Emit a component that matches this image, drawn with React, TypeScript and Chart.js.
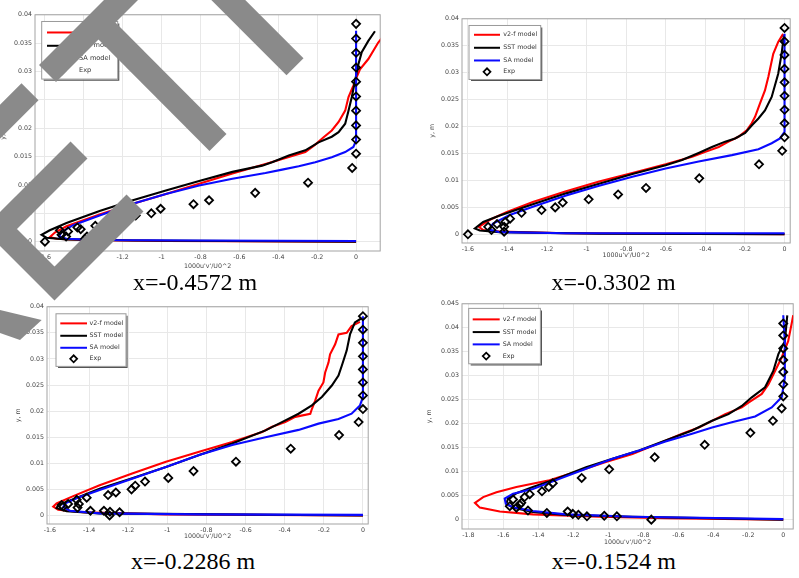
import React, { useEffect, useRef } from 'react';
import { Chart, registerables } from 'chart.js';

Chart.register(...registerables);

type Pt = [number, number];

// ---------- text ----------
const SERIES_LABELS = ['v2-f model', 'SST model', 'SA model', 'Exp'];
const CAPTIONS = ['x=-0.4572 m', 'x=-0.3302 m', 'x=-0.2286 m', 'x=-0.1524 m'];
const X_TITLE = "1000u'v'/U0^2";
const Y_TITLE = 'y, m';
const X_STEP = 0.2;
const Y_STEP = 0.005;

// ---------- data: [1000u'v'/U0^2, y (m)] ----------
// Panel 1: x = -0.4572 m
const P1_V2F: Pt[] = [[0.14, 0.0362], [0.114, 0.0351], [0.063, 0.0322], [0.02, 0.0304], [0.003, 0.029], [-0.014, 0.0275], [-0.039, 0.0255], [-0.056, 0.0231], [-0.09, 0.0211], [-0.125, 0.0196], [-0.167, 0.0184], [-0.21, 0.0171], [-0.261, 0.0158], [-0.329, 0.0151], [-0.397, 0.0144], [-0.466, 0.0137], [-0.636, 0.012], [-0.807, 0.0102], [-0.978, 0.0084], [-1.148, 0.0067], [-1.319, 0.0048], [-1.489, 0.0027], [-1.549, 0.0016], [-1.575, 0.0008], [-1.54, 0.0005], [-1.404, 0.0003], [-0.978, 0.0001], [0, 0]];
const P1_SST: Pt[] = [[0.097, 0.0371], [0.063, 0.0354], [0.029, 0.0334], [0.012, 0.0313], [-0.005, 0.0284], [-0.022, 0.0255], [-0.039, 0.0231], [-0.056, 0.0208], [-0.09, 0.0193], [-0.125, 0.0185], [-0.193, 0.0175], [-0.261, 0.0161], [-0.346, 0.0152], [-0.432, 0.014], [-0.483, 0.0134], [-0.636, 0.0123], [-0.807, 0.0107], [-0.978, 0.009], [-1.148, 0.0073], [-1.319, 0.0054], [-1.489, 0.0033], [-1.575, 0.002], [-1.617, 0.0012], [-1.592, 0.0007], [-1.489, 0.0004], [-1.148, 0.0002], [0, 0]];
const P1_SA: Pt[] = [[0, 0.0372], [0, 0.0178], [-0.014, 0.0167], [-0.056, 0.0158], [-0.125, 0.0149], [-0.21, 0.014], [-0.295, 0.0133], [-0.38, 0.0127], [-0.466, 0.0121], [-0.636, 0.0111], [-0.807, 0.0099], [-0.978, 0.0084], [-1.148, 0.0067], [-1.319, 0.0046], [-1.455, 0.0029], [-1.515, 0.0017], [-1.527, 0.0009], [-1.489, 0.0005], [-1.319, 0.0003], [-0.807, 0.0002], [0, 0.0001]];
const P1_EXP: Pt[] = [[0, 0.0384], [0, 0.0358], [0, 0.0333], [0, 0.0307], [0, 0.0282], [0, 0.0256], [0, 0.0231], [0, 0.0205], [0, 0.018], [0, 0.0155], [-0.02, 0.013], [-0.247, 0.0104], [-0.519, 0.0086], [-0.756, 0.0073], [-0.836, 0.0066], [-1.005, 0.0058], [-1.053, 0.005], [-1.133, 0.0046], [-1.235, 0.004], [-1.25, 0.0035], [-1.302, 0.0031], [-1.341, 0.0028], [-1.416, 0.0022], [-1.433, 0.0025], [-1.481, 0.0018], [-1.523, 0.002], [-1.515, 0.0012], [-1.491, 0.0009], [-1.384, 0.0009], [-1.394, 0.0005], [-1.334, 0.0006], [-1.6, 0]];

// Panel 2: x = -0.3302 m
const P2_V2F: Pt[] = [[-0.007, 0.0372], [-0.032, 0.0357], [-0.057, 0.0335], [-0.082, 0.0292], [-0.099, 0.0267], [-0.124, 0.0243], [-0.149, 0.0218], [-0.166, 0.0206], [-0.191, 0.0193], [-0.233, 0.0181], [-0.283, 0.0172], [-0.333, 0.0162], [-0.4, 0.0153], [-0.467, 0.0144], [-0.601, 0.013], [-0.769, 0.0114], [-0.937, 0.0098], [-1.104, 0.008], [-1.272, 0.006], [-1.406, 0.0041], [-1.489, 0.0027], [-1.545, 0.0014], [-1.523, 0.0008], [-1.439, 0.0005], [-1.104, 0.0002], [0, 0]];
const P2_SST: Pt[] = [[-0.003, 0.0369], [-0.015, 0.0335], [-0.032, 0.0298], [-0.065, 0.0255], [-0.099, 0.023], [-0.132, 0.0215], [-0.166, 0.0202], [-0.199, 0.0188], [-0.25, 0.0178], [-0.3, 0.0172], [-0.367, 0.0162], [-0.434, 0.0151], [-0.518, 0.0138], [-0.601, 0.0128], [-0.769, 0.0112], [-0.937, 0.0094], [-1.104, 0.0076], [-1.272, 0.0056], [-1.439, 0.0035], [-1.523, 0.0023], [-1.565, 0.0011], [-1.54, 0.0007], [-1.439, 0.0004], [-0.937, 0.0001], [0, 0]];
const P2_SA: Pt[] = [[0, 0.0372], [0, 0.019], [-0.023, 0.0178], [-0.065, 0.0169], [-0.132, 0.0158], [-0.266, 0.0147], [-0.434, 0.0135], [-0.601, 0.0122], [-0.769, 0.0107], [-0.937, 0.009], [-1.104, 0.0072], [-1.272, 0.0051], [-1.389, 0.0036], [-1.473, 0.002], [-1.493, 0.0009], [-1.439, 0.0004], [-1.104, 0.0002], [0, 0.0002]];
const P2_EXP: Pt[] = [[0, 0.0383], [0, 0.0358], [0, 0.0333], [0, 0.0307], [0, 0.0282], [0, 0.0257], [0, 0.0231], [0, 0.0206], [0, 0.018], [-0.012, 0.0155], [-0.129, 0.013], [-0.431, 0.0104], [-0.7, 0.0086], [-0.841, 0.0074], [-0.99, 0.0065], [-1.121, 0.0059], [-1.159, 0.005], [-1.228, 0.0045], [-1.329, 0.004], [-1.387, 0.0029], [-1.411, 0.0023], [-1.453, 0.0019], [-1.498, 0.0014], [-1.417, 0.0014], [-1.481, 0.0008], [-1.417, 0.0005], [-1.6, 0]];

// Panel 3: x = -0.2286 m
const P3_V2F: Pt[] = [[-0.015, 0.0371], [-0.058, 0.0363], [-0.083, 0.035], [-0.125, 0.0347], [-0.142, 0.0328], [-0.168, 0.0309], [-0.176, 0.0293], [-0.193, 0.0274], [-0.202, 0.0255], [-0.227, 0.0239], [-0.244, 0.022], [-0.261, 0.0204], [-0.269, 0.0195], [-0.346, 0.0189], [-0.397, 0.0179], [-0.464, 0.017], [-0.515, 0.016], [-0.668, 0.0141], [-0.837, 0.0122], [-1.007, 0.0103], [-1.176, 0.0081], [-1.346, 0.0058], [-1.481, 0.0037], [-1.566, 0.0023], [-1.583, 0.0017], [-1.558, 0.0011], [-1.431, 0.0006], [-1.007, 0.0002], [0, 0]];
const P3_SST: Pt[] = [[-0.007, 0.0378], [-0.041, 0.037], [-0.066, 0.0347], [-0.083, 0.0316], [-0.108, 0.0287], [-0.125, 0.0268], [-0.159, 0.0249], [-0.21, 0.0227], [-0.261, 0.0211], [-0.329, 0.0195], [-0.414, 0.0179], [-0.498, 0.0163], [-0.668, 0.0138], [-0.837, 0.0116], [-1.007, 0.0093], [-1.176, 0.0072], [-1.346, 0.0051], [-1.481, 0.0031], [-1.558, 0.002], [-1.566, 0.0014], [-1.515, 0.0008], [-1.346, 0.0004], [0, 0]];
const P3_SA: Pt[] = [[0, 0.0382], [0, 0.0227], [-0.015, 0.0211], [-0.058, 0.0195], [-0.125, 0.0185], [-0.227, 0.0176], [-0.329, 0.0164], [-0.498, 0.015], [-0.668, 0.0135], [-0.837, 0.0116], [-1.007, 0.0093], [-1.176, 0.0071], [-1.346, 0.0049], [-1.464, 0.0033], [-1.524, 0.0023], [-1.532, 0.0016], [-1.498, 0.0009], [-1.346, 0.0004], [-0.837, 0.0002], [0, 0.0001]];
const P3_EXP: Pt[] = [[0, 0.0382], [0, 0.0356], [0, 0.0331], [0, 0.0305], [0, 0.028], [0, 0.0255], [0, 0.023], [0, 0.0204], [-0.022, 0.0179], [-0.122, 0.0154], [-0.369, 0.0128], [-0.649, 0.0103], [-0.866, 0.0085], [-0.995, 0.0072], [-1.114, 0.0065], [-1.164, 0.0057], [-1.183, 0.005], [-1.263, 0.0044], [-1.303, 0.0039], [-1.412, 0.0034], [-1.463, 0.003], [-1.452, 0.0022], [-1.459, 0.0015], [-1.507, 0.0022], [-1.532, 0.0017], [-1.54, 0.002], [-1.393, 0.0009], [-1.324, 0.0009], [-1.293, 0.0007], [-1.244, 0.0006], [-1.295, 0]];

// Panel 4: x = -0.1524 m
const P4_V2F: Pt[] = [[0.057, 0.0426], [0.047, 0.0407], [0.028, 0.0372], [-0.009, 0.0338], [-0.047, 0.031], [-0.085, 0.0282], [-0.123, 0.0262], [-0.199, 0.0244], [-0.237, 0.0234], [-0.332, 0.022], [-0.407, 0.0206], [-0.483, 0.0192], [-0.578, 0.0179], [-0.711, 0.0159], [-0.862, 0.0137], [-1.014, 0.012], [-1.165, 0.0102], [-1.336, 0.0082], [-1.525, 0.0068], [-1.639, 0.0057], [-1.715, 0.0047], [-1.762, 0.0035], [-1.734, 0.0025], [-1.62, 0.0017], [-1.431, 0.0011], [-1.052, 0.0006], [-0.673, 0.0003], [0, 0]];
const P4_SST: Pt[] = [[0.023, 0.0426], [0.009, 0.0372], [-0.028, 0.0345], [-0.057, 0.031], [-0.104, 0.0276], [-0.18, 0.0255], [-0.237, 0.0237], [-0.313, 0.022], [-0.407, 0.0206], [-0.521, 0.0186], [-0.673, 0.0165], [-0.824, 0.0144], [-0.976, 0.0127], [-1.127, 0.0109], [-1.298, 0.0085], [-1.431, 0.0068], [-1.525, 0.0055], [-1.573, 0.0044], [-1.582, 0.0033], [-1.544, 0.0025], [-1.431, 0.0016], [-1.241, 0.001], [-0.862, 0.0006], [0, 0]];
const P4_SA: Pt[] = [[0, 0.0426], [0.009, 0.0372], [0.009, 0.0296], [-0.009, 0.0255], [-0.066, 0.0234], [-0.161, 0.0215], [-0.294, 0.0203], [-0.407, 0.0192], [-0.521, 0.0179], [-0.673, 0.0163], [-0.824, 0.0144], [-0.976, 0.0127], [-1.127, 0.0106], [-1.279, 0.0085], [-1.431, 0.0064], [-1.544, 0.0054], [-1.592, 0.0044], [-1.586, 0.0033], [-1.544, 0.0026], [-1.431, 0.0018], [-1.241, 0.0011], [-0.862, 0.0006], [0, 0.0001]];
const P4_EXP: Pt[] = [[0, 0.0409], [0, 0.0384], [0, 0.0357], [0, 0.0333], [0, 0.0308], [0, 0.0282], [0, 0.0257], [-0.009, 0.0232], [-0.059, 0.0206], [-0.188, 0.0181], [-0.449, 0.0156], [-0.735, 0.013], [-0.995, 0.0105], [-1.152, 0.0087], [-1.317, 0.0076], [-1.34, 0.0068], [-1.379, 0.0059], [-1.449, 0.0053], [-1.478, 0.0047], [-1.544, 0.0042], [-1.497, 0.0035], [-1.506, 0.0031], [-1.563, 0.0028], [-1.525, 0.0025], [-1.459, 0.0019], [-1.351, 0.0014], [-1.232, 0.0017], [-1.203, 0.0012], [-1.171, 0.001], [-1.122, 0.0007], [-1.023, 0.0008], [-0.951, 0.0007], [-0.754, 0]];

// ---------- layout (page px) ----------
interface Panel {
  series: Pt[][];
  xMin: number; xMax: number; yMin: number; yMax: number;
  L: number; T: number; R: number; B: number;
  W: number; H: number;
  leg: { ox: number; oy: number; w: number; h: number; l0: number; l1: number; tx: number; rows: number[]; fs: number };
  cap: { left: number; top: number };
}

const PANELS: Panel[] = [
  {
    series: [P1_V2F, P1_SST, P1_SA, P1_EXP],
    xMin: -1.651, xMax: 0.124, yMin: -0.00165, yMax: 0.04,
    L: 35, T: 14, R: 382, B: 251, W: 35.5, H: 18.8,
    leg: { ox: 6.7, oy: 6.7, w: 76, h: 57.6, l0: 5.3, l1: 35.3, tx: 37.3, rows: [11, 24.3, 37, 49.3], fs: 6.6 },
    cap: { left: 133, top: 270 },
  },
  {
    series: [P2_V2F, P2_SST, P2_SA, P2_EXP],
    xMin: -1.63, xMax: 0.0286, yMin: -0.00161, yMax: 0.04,
    L: 462, T: 18, R: 792, B: 243, W: 33.8, H: 16.5,
    leg: { ox: 7, oy: 6.7, w: 71.7, h: 54, l0: 5, l1: 31, tx: 34.3, rows: [9.3, 22.3, 35, 46.3], fs: 6.3 },
    cap: { left: 551.5, top: 270 },
  },
  {
    series: [P3_V2F, P3_SST, P3_SA, P3_EXP],
    xMin: -1.615, xMax: 0.027, yMin: -0.00164, yMax: 0.04,
    L: 47, T: 306, R: 370, B: 524, W: 32.2, H: 16.2,
    leg: { ox: 9, oy: 7, w: 70, h: 52.6, l0: 4.3, l1: 31, tx: 33.6, rows: [9.6, 22, 34, 45], fs: 6.3 },
    cap: { left: 131, top: 549 },
  },
  {
    series: [P4_V2F, P4_SST, P4_SA, P4_EXP],
    xMin: -1.836, xMax: 0.0568, yMin: -0.00195, yMax: 0.045,
    L: 462, T: 303, R: 795, B: 529, W: 36.8, H: 17.4,
    leg: { ox: 6.7, oy: 4.6, w: 71.7, h: 55.4, l0: 4, l1: 31, tx: 34, rows: [11, 23.7, 36, 47.7], fs: 6.3 },
    cap: { left: 551.7, top: 549 },
  },
];

const LINE_COLORS = ['#ff0000', '#000000', '#0a0aff'];
const FONT_FAMILY = '"DejaVu Sans", sans-serif';
const TICK_COLOR = '#444444';
const PAD_TOP = 6;
const PAD_RIGHT = 4;

function fmt(v: number | string): string {
  const n = Math.round(Number(v) * 10000) / 10000;
  return String(n === 0 ? 0 : n);
}

function canvasBox(p: Panel) {
  const left = Math.floor(p.L - p.W);
  const top = p.T - PAD_TOP;
  const width = Math.ceil(p.R + PAD_RIGHT - left);
  const height = Math.ceil(p.B + p.H - top);
  return {
    left, top, width, height,
    pad: {
      left: p.L - p.W - left,
      top: PAD_TOP,
      right: width - (p.R - left),
      bottom: height - (p.B + p.H - top),
    },
  };
}

function makeChart(canvas: HTMLCanvasElement, p: Panel): Chart {
  const box = canvasBox(p);
  const datasets: any[] = p.series.map((s, i) => {
    const data = s.map(([x, y]) => ({ x, y }));
    if (i < 3) {
      return {
        label: SERIES_LABELS[i],
        data,
        showLine: true,
        borderColor: LINE_COLORS[i],
        backgroundColor: LINE_COLORS[i],
        borderWidth: 2.1,
        pointRadius: 0,
        tension: 0,
        fill: false,
        order: 3 - i,
      };
    }
    return {
      label: SERIES_LABELS[i],
      data,
      showLine: false,
      pointStyle: 'rectRot',
      pointRadius: 4,
      pointBorderWidth: 1.8,
      borderColor: '#000000',
      pointBorderColor: '#000000',
      backgroundColor: 'rgba(0,0,0,0)',
      pointBackgroundColor: 'rgba(0,0,0,0)',
      order: 0,
    };
  });

  const framePlugin = {
    id: 'frame',
    beforeDatasetsDraw(chart: Chart) {
      const { ctx, chartArea } = chart;
      ctx.save();
      ctx.strokeStyle = '#a3a3a3';
      ctx.lineWidth = 1;
      ctx.strokeRect(chartArea.left, chartArea.top, chartArea.right - chartArea.left, chartArea.bottom - chartArea.top);
      ctx.restore();
    },
  };

  const lg = p.leg;
  const legendPlugin = {
    id: 'boxLegend',
    afterDatasetsDraw(chart: Chart) {
      const { ctx, chartArea } = chart;
      const x0 = chartArea.left + lg.ox;
      const y0 = chartArea.top + lg.oy;
      ctx.save();
      ctx.fillStyle = '#ffffff';
      ctx.fillRect(x0, y0, lg.w, lg.h);
      ctx.strokeStyle = '#555555';
      ctx.lineWidth = 1.2;
      ctx.beginPath();
      ctx.moveTo(x0 + lg.w + 1, y0 + 2);
      ctx.lineTo(x0 + lg.w + 1, y0 + lg.h + 1);
      ctx.lineTo(x0 + 2, y0 + lg.h + 1);
      ctx.stroke();
      ctx.strokeStyle = '#9a9a9a';
      ctx.lineWidth = 1;
      ctx.strokeRect(x0, y0, lg.w, lg.h);
      ctx.font = `${lg.fs}px ${FONT_FAMILY}`;
      ctx.textBaseline = 'middle';
      ctx.textAlign = 'left';
      chart.data.datasets.forEach((ds: any, i: number) => {
        const cy = y0 + lg.rows[i];
        if (ds.showLine) {
          ctx.strokeStyle = ds.borderColor;
          ctx.lineWidth = 2;
          ctx.beginPath();
          ctx.moveTo(x0 + lg.l0, cy);
          ctx.lineTo(x0 + lg.l1, cy);
          ctx.stroke();
        } else {
          const cx = x0 + (lg.l0 + lg.l1) / 2;
          const r = 3.5;
          ctx.strokeStyle = '#000000';
          ctx.lineWidth = 1.7;
          ctx.beginPath();
          ctx.moveTo(cx - r, cy);
          ctx.lineTo(cx, cy - r);
          ctx.lineTo(cx + r, cy);
          ctx.lineTo(cx, cy + r);
          ctx.closePath();
          ctx.stroke();
        }
        ctx.fillStyle = '#333333';
        ctx.fillText(ds.label, x0 + lg.tx, cy);
      });
      ctx.restore();
    },
  };

  const tickFont = { family: FONT_FAMILY, size: 6.3 };
  return new Chart(canvas, {
    type: 'scatter',
    data: { datasets },
    options: {
      animation: false,
      responsive: false,
      events: [],
      layout: { padding: box.pad },
      plugins: {
        legend: { display: false },
        tooltip: { enabled: false },
      },
      scales: {
        x: {
          type: 'linear',
          min: p.xMin,
          max: p.xMax,
          ticks: {
            stepSize: X_STEP,
            includeBounds: false,
            autoSkip: false,
            maxRotation: 0,
            padding: 3,
            color: TICK_COLOR,
            font: tickFont,
            callback: (v: any) => fmt(v),
          },
          grid: { color: '#e8e8e8', lineWidth: 1, drawTicks: false },
          border: { display: false },
          title: { display: true, text: X_TITLE, color: TICK_COLOR, font: tickFont, padding: { top: 0, bottom: 0 } },
          afterFit: (s: any) => { s.height = p.H; },
        },
        y: {
          type: 'linear',
          min: p.yMin,
          max: p.yMax,
          ticks: {
            stepSize: Y_STEP,
            includeBounds: false,
            autoSkip: false,
            padding: 3,
            color: TICK_COLOR,
            font: tickFont,
            callback: (v: any) => fmt(v),
          },
          grid: { color: '#e8e8e8', lineWidth: 1, drawTicks: false },
          border: { display: false },
          title: { display: true, text: Y_TITLE, color: TICK_COLOR, font: tickFont, padding: { top: 0, bottom: 0 } },
          afterFit: (s: any) => { s.width = p.W; },
        },
      },
    } as any,
    plugins: [framePlugin, legendPlugin],
  });
}

function PanelChart({ panel }: { panel: Panel }) {
  const ref = useRef<HTMLCanvasElement | null>(null);
  const box = canvasBox(panel);
  useEffect(() => {
    if (!ref.current) return;
    const chart = makeChart(ref.current, panel);
    return () => chart.destroy();
  }, [panel]);
  return (
    <canvas
      ref={ref}
      width={box.width}
      height={box.height}
      style={{ position: 'absolute', left: box.left, top: box.top, width: box.width, height: box.height }}
    />
  );
}

export default function App() {
  return (
    <div style={{ position: 'fixed', left: 0, top: 0, width: 799, height: 578, background: '#ffffff', overflow: 'hidden' }}>
      {PANELS.map((p, i) => (
        <PanelChart key={i} panel={p} />
      ))}
      {PANELS.map((p, i) => (
        <div
          key={'c' + i}
          style={{
            position: 'absolute',
            left: p.cap.left,
            top: p.cap.top,
            fontFamily: '"Liberation Serif", "Times New Roman", serif',
            fontSize: 24,
            lineHeight: '24px',
            whiteSpace: 'nowrap',
            color: '#000',
          }}
        >
          {CAPTIONS[i]}
        </div>
      ))}
      <svg width={799} height={578} style={{ position: 'absolute', left: 0, top: 0, pointerEvents: 'none' }}>
        <g stroke="#8a8a8a" strokeWidth={24} fill="none" strokeLinejoin="miter" strokeLinecap="butt">
          <line x1={47.5} y1={73.5} x2={135} y2={-14} />
          <line x1={99} y1={23} x2={218} y2={142.5} />
          <line x1={295} y1={66.7} x2={215} y2={-13.3} />
          <line x1={30} y1={91.7} x2={-70} y2={191.7} />
          <polyline points="79,150 0,229 54.5,283.5 135,203" />
        </g>
        <polygon points="0,310 41.7,320 20,340 0,333" fill="#8a8a8a" />
      </svg>
    </div>
  );
}
